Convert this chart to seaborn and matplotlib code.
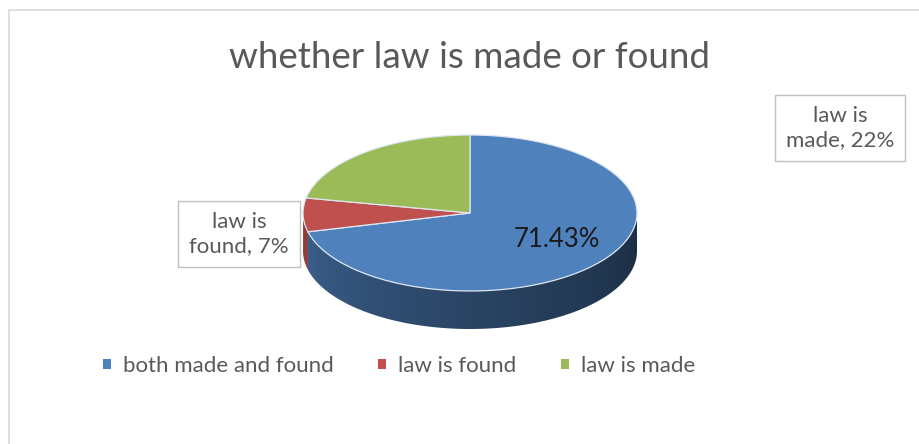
import numpy as np
import matplotlib
matplotlib.use("Agg")
import matplotlib.pyplot as plt
from matplotlib.lines import Line2D
from matplotlib.patches import Polygon, Patch
import matplotlib.colors as mcolors
import seaborn as sns

# ---- data ----
categories = ["both made and found", "law is found", "law is made"]
shares = [71.43, 7, 22]
label_texts = ["71.43%", "7%", "22%"]
colors = ["#4F81BD", "#C0504D", "#9BBB59"]
title = "whether law is made or found"

sns.set_theme(style="white")
plt.rcParams["font.family"] = ["Lato", "DejaVu Sans"]

W, H = 919, 444
fig = plt.figure(figsize=(W / 100, H / 100), dpi=100)
fig.patch.set_facecolor("white")

def fx(px):
    return px / W

def fy(py):
    return 1 - py / H

# chart-area frame (top and left edges)
fig.add_artist(Line2D([fx(8.5), 1.0], [fy(10.5), fy(10.5)], color="#d9d9d9", lw=1.2))
fig.add_artist(Line2D([fx(8.5), fx(8.5)], [fy(10.5), 0.0], color="#d9d9d9", lw=1.2))

# ---- pie axes: top face ellipse with x-radius 167 px, y-radius 78 px ----
cx, cy = 470, 213
rx, ry = 167, 78
depth_px = 38
d = depth_px / ry
ax = fig.add_axes([fx(cx - rx), fy(cy + ry + depth_px), 2 * rx / W, (2 * ry + depth_px) / H])

total = sum(shares)
fracs = [s / total for s in shares]

# shading across the front of the disc: lighter on the left, dark on the right
gx = np.linspace(-1, 1, 400)
u = (180 - np.degrees(np.arccos(gx))) / 180
shade = 0.80 - 0.45 * np.clip(u, 0, 1) ** 0.75

# side of the disc, one shaded band per slice in the front half
cum = 0.0
for frac, col in zip(fracs, colors):
    t_hi = 90 - cum * 360
    t_lo = 90 - (cum + frac) * 360
    cum += frac
    for shift in (0, 360, -360):
        a = max(t_lo + shift, 180)
        b = min(t_hi + shift, 360)
        if b <= a:
            continue
        th = np.radians(np.linspace(a, b, 200))
        top = np.column_stack([np.cos(th), np.sin(th)])
        bot = np.column_stack([np.cos(th[::-1]), np.sin(th[::-1]) - d])
        poly = Polygon(np.vstack([top, bot]), closed=True, facecolor="none",
                       edgecolor="none")
        ax.add_patch(poly)
        base = np.array(mcolors.to_rgb(col))
        img = np.clip(shade[None, :, None] * base[None, None, :], 0, 1)
        im = ax.imshow(img, extent=(-1, 1, -1 - d, 1), aspect="auto",
                       interpolation="bilinear", zorder=1)
        im.set_clip_path(poly)

wedges, _ = ax.pie(fracs, colors=colors, startangle=90, counterclock=False,
                   radius=1, center=(0, 0),
                   wedgeprops=dict(edgecolor="#dce6f2", linewidth=0.9, zorder=2))
ax.set_aspect("auto")
ax.set_xlim(-1, 1)
ax.set_ylim(-1 - d, 1)
ax.axis("off")

# value label inside the large slice
mid = np.radians(90 - fracs[0] * 180)
ax.text(0.66 * np.cos(mid), 0.55 * np.sin(mid), label_texts[0], ha="center",
        va="center", fontsize=18.5, color="#1a1a1a", zorder=5)

# callout labels for the smaller slices
box = dict(boxstyle="square,pad=0.5", facecolor="white", edgecolor="#bfbfbf", lw=1)
fig.text(fx(239), fy(234), "law is\n" + f"found, {label_texts[1]}", ha="center",
         va="center", fontsize=16, color="#595959", linespacing=1.25, bbox=box)
fig.text(fx(840), fy(128), "law is\n" + f"made, {label_texts[2]}", ha="center",
         va="center", fontsize=16, color="#595959", linespacing=1.25, bbox=box)

# title
fig.text(fx(470), fy(57), title, ha="center", va="center", fontsize=26.5, color="#595959")

# legend
handles = [Patch(facecolor=c, edgecolor="none") for c in colors]
fig.legend(handles, categories, loc="center", bbox_to_anchor=(fx(399), fy(366)),
           ncol=3, frameon=False, fontsize=16, handlelength=0.35, handleheight=0.35,
           handletextpad=0.55, columnspacing=2.0, labelcolor="#595959")

fig.savefig("out.png", dpi=100, facecolor="white")
